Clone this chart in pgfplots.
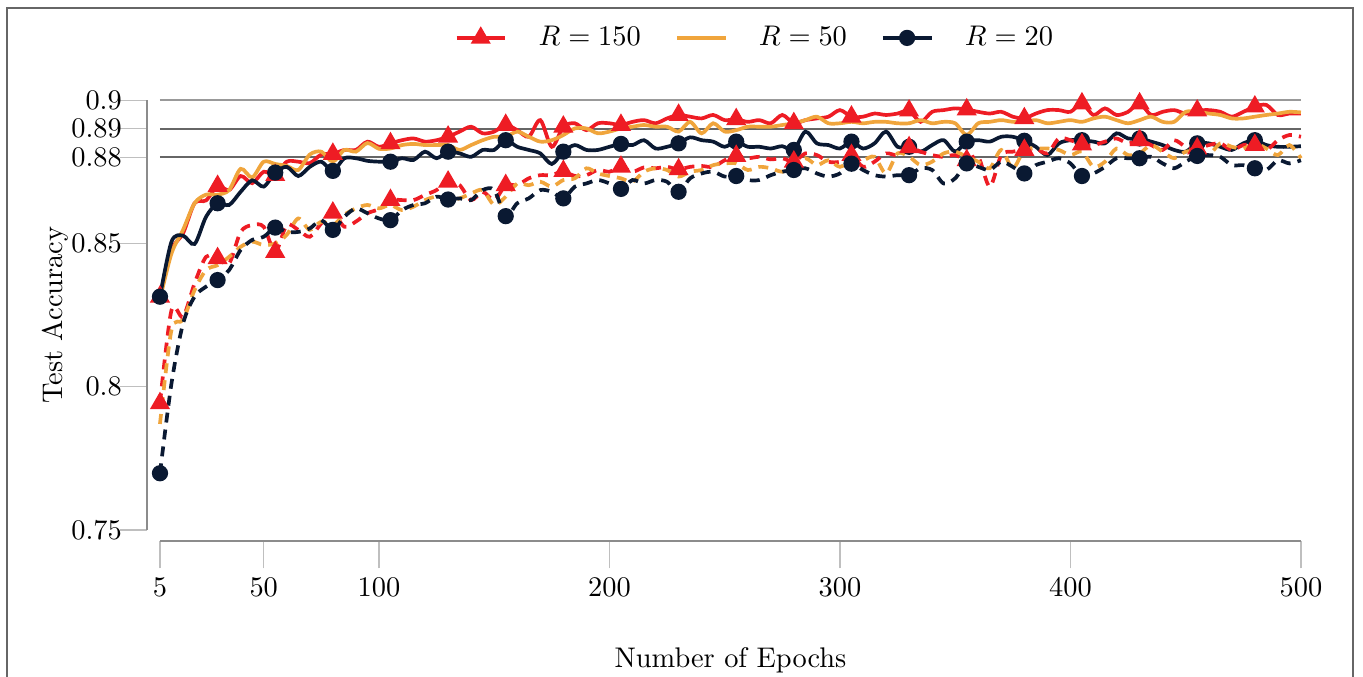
\documentclass[border=0pt]{standalone}
\usepackage{pgfplots}
\usepackage{pgfplotstable}
\pgfplotsset{compat=1.18}
\definecolor{cred}{RGB}{238,28,36}
\definecolor{corange}{RGB}{240,165,60}
\definecolor{cnavy}{RGB}{10,25,50}
\pgfplotstableread{
ep s150 s50 s20 d150 d50 d20
5 0.8314 0.8305 0.8314 0.7942 0.7870 0.7698
10 0.8477 0.8465 0.8506 0.8267 0.8198 0.8012
15 0.8535 0.8547 0.8527 0.8244 0.8233 0.8220
20 0.8640 0.8640 0.8498 0.8360 0.8337 0.8314
25 0.8650 0.8670 0.8593 0.8453 0.8407 0.8349
30 0.8700 0.8670 0.8640 0.8448 0.8424 0.8372
35 0.8686 0.8686 0.8634 0.8430 0.8453 0.8407
40 0.8735 0.8760 0.8680 0.8540 0.8488 0.8477
45 0.8710 0.8730 0.8720 0.8564 0.8506 0.8512
50 0.8750 0.8785 0.8698 0.8558 0.8494 0.8523
55 0.8738 0.8777 0.8747 0.8470 0.8500 0.8555
60 0.8785 0.8770 0.8767 0.8564 0.8530 0.8540
65 0.8785 0.8756 0.8735 0.8547 0.8587 0.8540
70 0.8780 0.8810 0.8767 0.8523 0.8547 0.8552
75 0.8810 0.8820 0.8785 0.8570 0.8576 0.8581
80 0.8812 0.8785 0.8753 0.8607 0.8564 0.8547
85 0.8826 0.8826 0.8797 0.8558 0.8600 0.8593
90 0.8826 0.8820 0.8797 0.8576 0.8622 0.8622
95 0.8855 0.8850 0.8788 0.8605 0.8634 0.8605
100 0.8837 0.8830 0.8785 0.8620 0.8622 0.8587
105 0.8849 0.8831 0.8785 0.8651 0.8634 0.8581
110 0.8860 0.8843 0.8797 0.8651 0.8616 0.8616
115 0.8866 0.8847 0.8791 0.8651 0.8628 0.8634
120 0.8855 0.8843 0.8820 0.8669 0.8651 0.8640
125 0.8860 0.8843 0.8797 0.8686 0.8663 0.8663
130 0.8872 0.8843 0.8820 0.8715 0.8651 0.8653
135 0.8890 0.8826 0.8814 0.8703 0.8657 0.8657
140 0.8907 0.8843 0.8802 0.8651 0.8674 0.8651
145 0.8884 0.8860 0.8826 0.8680 0.8686 0.8686
150 0.8890 0.8872 0.8826 0.8651 0.8634 0.8686
155 0.8913 0.8872 0.8860 0.8703 0.8663 0.8595
160 0.8895 0.8890 0.8837 0.8703 0.8709 0.8640
165 0.8872 0.8872 0.8826 0.8727 0.8703 0.8657
170 0.8930 0.8855 0.8814 0.8738 0.8715 0.8686
175 0.8837 0.8860 0.8777 0.8738 0.8698 0.8680
180 0.8907 0.8878 0.8820 0.8752 0.8721 0.8657
185 0.8919 0.8901 0.8843 0.8735 0.8727 0.8698
190 0.8895 0.8901 0.8826 0.8738 0.8762 0.8709
195 0.8919 0.8884 0.8826 0.8756 0.8744 0.8721
200 0.8919 0.8890 0.8837 0.8750 0.8735 0.8709
205 0.8913 0.8901 0.8847 0.8767 0.8727 0.8690
210 0.8924 0.8907 0.8843 0.8750 0.8715 0.8721
215 0.8930 0.8913 0.8860 0.8765 0.8750 0.8709
220 0.8919 0.8907 0.8831 0.8762 0.8762 0.8721
225 0.8936 0.8907 0.8837 0.8767 0.8756 0.8715
230 0.8948 0.8890 0.8849 0.8758 0.8733 0.8680
235 0.8942 0.8924 0.8870 0.8767 0.8750 0.8727
240 0.8936 0.8884 0.8860 0.8770 0.8756 0.8744
245 0.8948 0.8919 0.8855 0.8767 0.8773 0.8750
250 0.8930 0.8890 0.8837 0.8790 0.8779 0.8733
255 0.8933 0.8895 0.8855 0.8805 0.8779 0.8735
260 0.8924 0.8907 0.8837 0.8797 0.8756 0.8721
265 0.8930 0.8907 0.8837 0.8802 0.8767 0.8721
270 0.8919 0.8907 0.8831 0.8793 0.8762 0.8738
275 0.8948 0.8913 0.8839 0.8797 0.8750 0.8750
280 0.8919 0.8919 0.8826 0.8785 0.8767 0.8756
285 0.8930 0.8930 0.8890 0.8814 0.8797 0.8762
290 0.8936 0.8942 0.8849 0.8808 0.8773 0.8744
295 0.8942 0.8919 0.8843 0.8785 0.8790 0.8733
300 0.8965 0.8919 0.8831 0.8785 0.8767 0.8744
305 0.8942 0.8924 0.8855 0.8808 0.8790 0.8778
310 0.8942 0.8919 0.8831 0.8767 0.8790 0.8756
315 0.8953 0.8924 0.8849 0.8785 0.8802 0.8738
320 0.8948 0.8924 0.8890 0.8814 0.8744 0.8733
325 0.8953 0.8919 0.8837 0.8808 0.8814 0.8738
330 0.8963 0.8919 0.8837 0.8835 0.8802 0.8738
335 0.8924 0.8930 0.8820 0.8820 0.8773 0.8762
340 0.8959 0.8919 0.8843 0.8808 0.8785 0.8756
345 0.8965 0.8924 0.8860 0.8802 0.8814 0.8709
350 0.8971 0.8919 0.8820 0.8808 0.8820 0.8727
355 0.8967 0.8878 0.8855 0.8790 0.8802 0.8779
360 0.8959 0.8919 0.8860 0.8802 0.8785 0.8767
365 0.8953 0.8924 0.8855 0.8698 0.8762 0.8756
370 0.8959 0.8930 0.8872 0.8808 0.8826 0.8785
375 0.8942 0.8924 0.8872 0.8820 0.8762 0.8767
380 0.8936 0.8924 0.8858 0.8826 0.8826 0.8744
385 0.8953 0.8930 0.8837 0.8831 0.8831 0.8773
390 0.8965 0.8919 0.8808 0.8814 0.8831 0.8785
395 0.8965 0.8924 0.8849 0.8866 0.8826 0.8797
400 0.8959 0.8930 0.8860 0.8860 0.8808 0.8779
405 0.8988 0.8924 0.8860 0.8845 0.8820 0.8735
410 0.8948 0.8936 0.8855 0.8843 0.8767 0.8744
415 0.8971 0.8942 0.8849 0.8855 0.8785 0.8767
420 0.8948 0.8930 0.8884 0.8866 0.8831 0.8797
425 0.8959 0.8919 0.8866 0.8849 0.8808 0.8797
430 0.8988 0.8930 0.8866 0.8860 0.8814 0.8797
435 0.8948 0.8942 0.8855 0.8843 0.8843 0.8802
440 0.8959 0.8924 0.8843 0.8826 0.8820 0.8779
445 0.8965 0.8924 0.8826 0.8860 0.8797 0.8762
450 0.8953 0.8959 0.8820 0.8837 0.8820 0.8785
455 0.8963 0.8959 0.8849 0.8831 0.8820 0.8805
460 0.8965 0.8953 0.8849 0.8843 0.8808 0.8808
465 0.8959 0.8948 0.8837 0.8849 0.8849 0.8802
470 0.8942 0.8936 0.8826 0.8826 0.8837 0.8773
475 0.8959 0.8936 0.8849 0.8843 0.8831 0.8773
480 0.8977 0.8942 0.8860 0.8843 0.8849 0.8762
485 0.8983 0.8948 0.8843 0.8826 0.8831 0.8756
490 0.8948 0.8953 0.8837 0.8860 0.8808 0.8790
495 0.8953 0.8959 0.8837 0.8878 0.8843 0.8779
500 0.8953 0.8957 0.8839 0.8872 0.8797 0.8790
}\accdata

\begin{document}
\begin{tikzpicture}
\path[use as bounding box] (-56.34pt,-51.77pt) rectangle (423.66pt,186.64pt);
\draw[black!60, line width=0.7pt] (-53.88pt,-53pt) -- (-53.88pt,183.83pt) -- (420.13pt,183.83pt) -- (420.13pt,-53pt);
\begin{axis}[
  at={(0pt,0pt)}, anchor=south west, scale only axis,
  width=401.8pt, height=151.4pt,
  xmin=5, xmax=500, ymin=0.75, ymax=0.9,
  axis lines*=left,
  axis x line shift=3.9pt, axis y line shift=4.6pt,
  axis line style={black!45, line width=0.6pt},
  xtick={5,50,100,200,300,400,500},
  ytick={0.75,0.8,0.85,0.88,0.89,0.9},
  yticklabel style={xshift=4.3pt},
  tick align=outside, major tick length=9.6pt,
  tick style={black!25, line width=0.4pt},
  xlabel={Number of Epochs}, ylabel={Test Accuracy},
  xlabel style={at={(axis description cs:0.5,-0.3025)}, anchor=center},
  ylabel style={at={(axis description cs:-0.092,0.5)}, anchor=center},
  clip=false,
  legend columns=3,
  legend style={draw=none, fill=none, at={(0.523,1.1446)}, anchor=center,
    /tikz/every odd column/.append style={column sep=9.2pt},
    /tikz/every even column/.append style={column sep=10pt}},
  every axis plot/.append style={line width=1.3pt},
]
\draw[black!40, line width=0.7pt] (axis cs:5,0.9) -- (axis cs:500,0.9);
\draw[black!60, line width=0.7pt] (axis cs:5,0.89) -- (axis cs:500,0.89);
\draw[black!60, line width=0.7pt] (axis cs:5,0.88) -- (axis cs:500,0.88);

\addplot[cred, smooth, mark=triangle*, mark size=2.8pt, mark repeat=5, mark phase=1] table[x=ep, y=s150] {\accdata};
\addlegendentry{$R=150$}
\addplot[corange, smooth] table[x=ep, y=s50] {\accdata};
\addlegendentry{$R=50$}
\addplot[cnavy, smooth, mark=*, mark size=2.2pt, mark repeat=5, mark phase=1] table[x=ep, y=s20] {\accdata};
\addlegendentry{$R=20$}

\addplot[cred, smooth, dash pattern=on 3.5pt off 2.5pt, mark=triangle*, mark size=2.8pt, mark repeat=5, mark phase=1, mark options={solid}, forget plot] table[x=ep, y=d150] {\accdata};
\addplot[corange, smooth, dash pattern=on 3.5pt off 2.5pt, forget plot] table[x=ep, y=d50] {\accdata};
\addplot[cnavy, smooth, dash pattern=on 3.5pt off 2.5pt, mark=*, mark size=2.2pt, mark repeat=5, mark phase=1, mark options={solid}, forget plot] table[x=ep, y=d20] {\accdata};
\end{axis}
\end{tikzpicture}
\end{document}
